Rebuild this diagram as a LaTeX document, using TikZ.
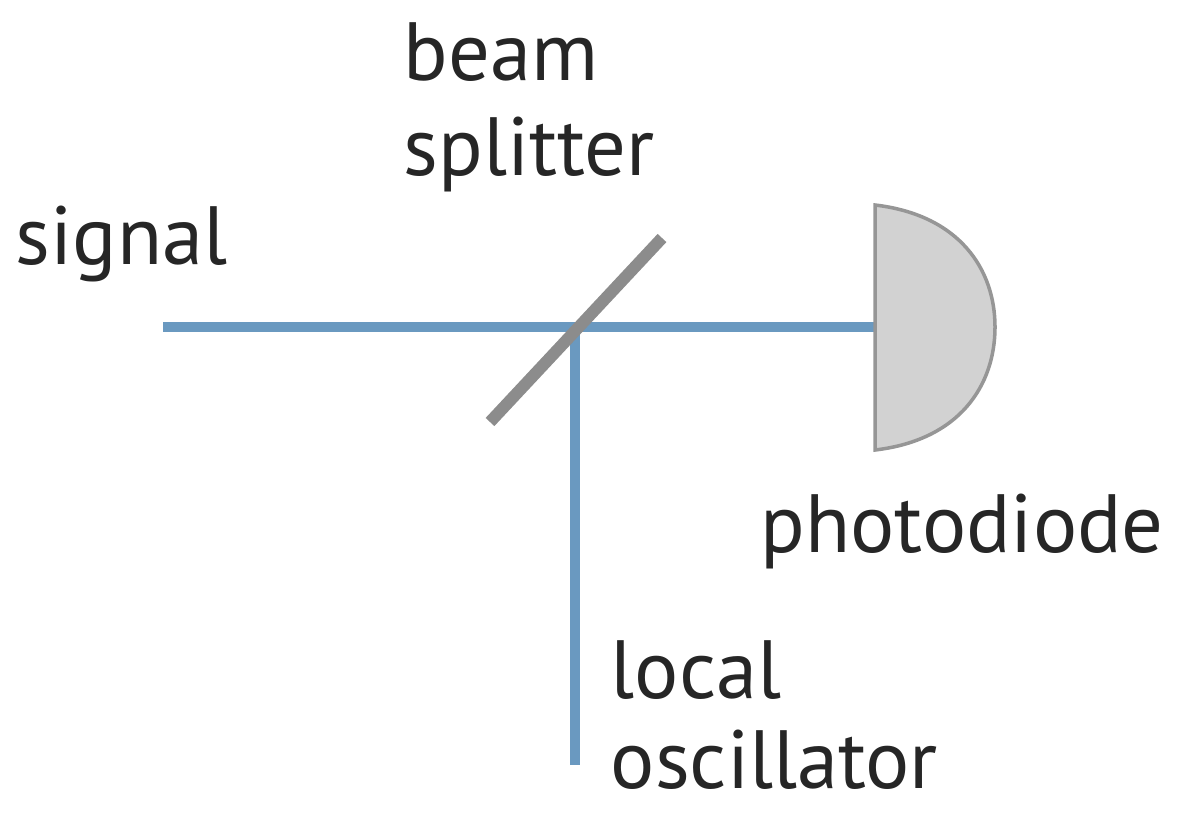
\documentclass[tikz,border=0pt]{standalone}
\usepackage{fontspec}
\setmainfont{PT Sans}
\begin{document}
\begin{tikzpicture}[x=0.01cm,y=-0.01cm,
  lbl/.style={anchor=base west,inner sep=0pt,font=\fontsize{23.5}{28}\selectfont,text=black!85},
  beam/.style={line width=2.8pt,color={rgb,255:red,106;green,153;blue,192}}]
\useasboundingbox (0,0) rectangle (1195,830);
\coordinate (s) at (163,327);
\coordinate (bs) at (575,327);
\coordinate (pd) at (878,327);
\coordinate (lo) at (575,765);
\draw[beam] (s) -- (pd);
\draw[beam] (bs) -- (lo);
\coordinate (b1) at (490,422);
\coordinate (b2) at (662,238);
\draw[line width=3.4pt,color={rgb,255:red,140;green,140;blue,140}] (b1) -- (b2);
\draw[fill={rgb,255:red,210;green,210;blue,210},draw={rgb,255:red,150;green,150;blue,150},line width=1pt]
  (875,205) .. controls (960,215) and (995,270) .. (995,327) .. controls (995,385) and (960,440) .. (875,450) -- cycle;
\node[lbl] (t1) at (403,80) {beam};
\node[lbl] (t2) at (403,175) {splitter};
\node[lbl] (t3) at (15,264) {signal};
\node[lbl] (t4) at (760,552) {photodiode};
\node[lbl] (t5) at (610,698) {local};
\node[lbl] (t6) at (610,788) {oscillator};
\end{tikzpicture}
\end{document}
